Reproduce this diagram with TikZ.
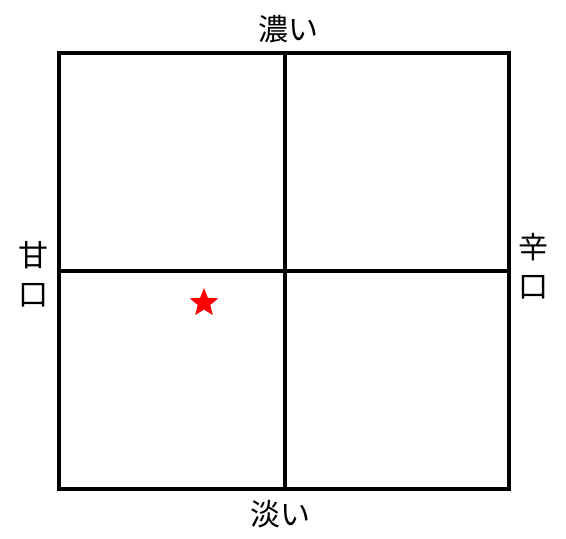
\documentclass[tikz,border=0pt]{standalone}
\usepackage{fontspec}
\newfontfamily\cjk{Noto Sans CJK JP}
\usetikzlibrary{shapes.geometric}
\definecolor{starred}{RGB}{255,0,0}
\tikzset{
  axislabel/.style={font=\cjk\fontsize{30}{39}\selectfont, inner sep=0pt, align=center},
  gridline/.style={line width=3.3pt},
  marker/.style={star, star points=5, star point ratio=2.3, fill=starred, draw=none, minimum size=30pt, inner sep=0pt}
}
\begin{document}
\begin{tikzpicture}[x=1pt,y=-1pt]
\useasboundingbox (0,0) rectangle (566,539);

%frame and cross
\coordinate (NW) at (59,53);
\coordinate (SE) at (509,489);
\coordinate (N) at (285,53);
\coordinate (S) at (285,489);
\coordinate (W) at (59,271);
\coordinate (E) at (509,271);
\draw[gridline] (NW) rectangle (SE);
\draw[gridline] (N) -- (S);
\draw[gridline] (W) -- (E);

%labels
\node[axislabel] (dense) at (288,29) {濃い};
\node[axislabel] (light) at (280,514) {淡い};
\node[axislabel] (sweet) at (34,274) {甘\\口};
\node[axislabel] (dry) at (533,266) {辛\\口};

%position
\node[marker] (pos) at (204,303) {};

\end{tikzpicture}
\end{document}
